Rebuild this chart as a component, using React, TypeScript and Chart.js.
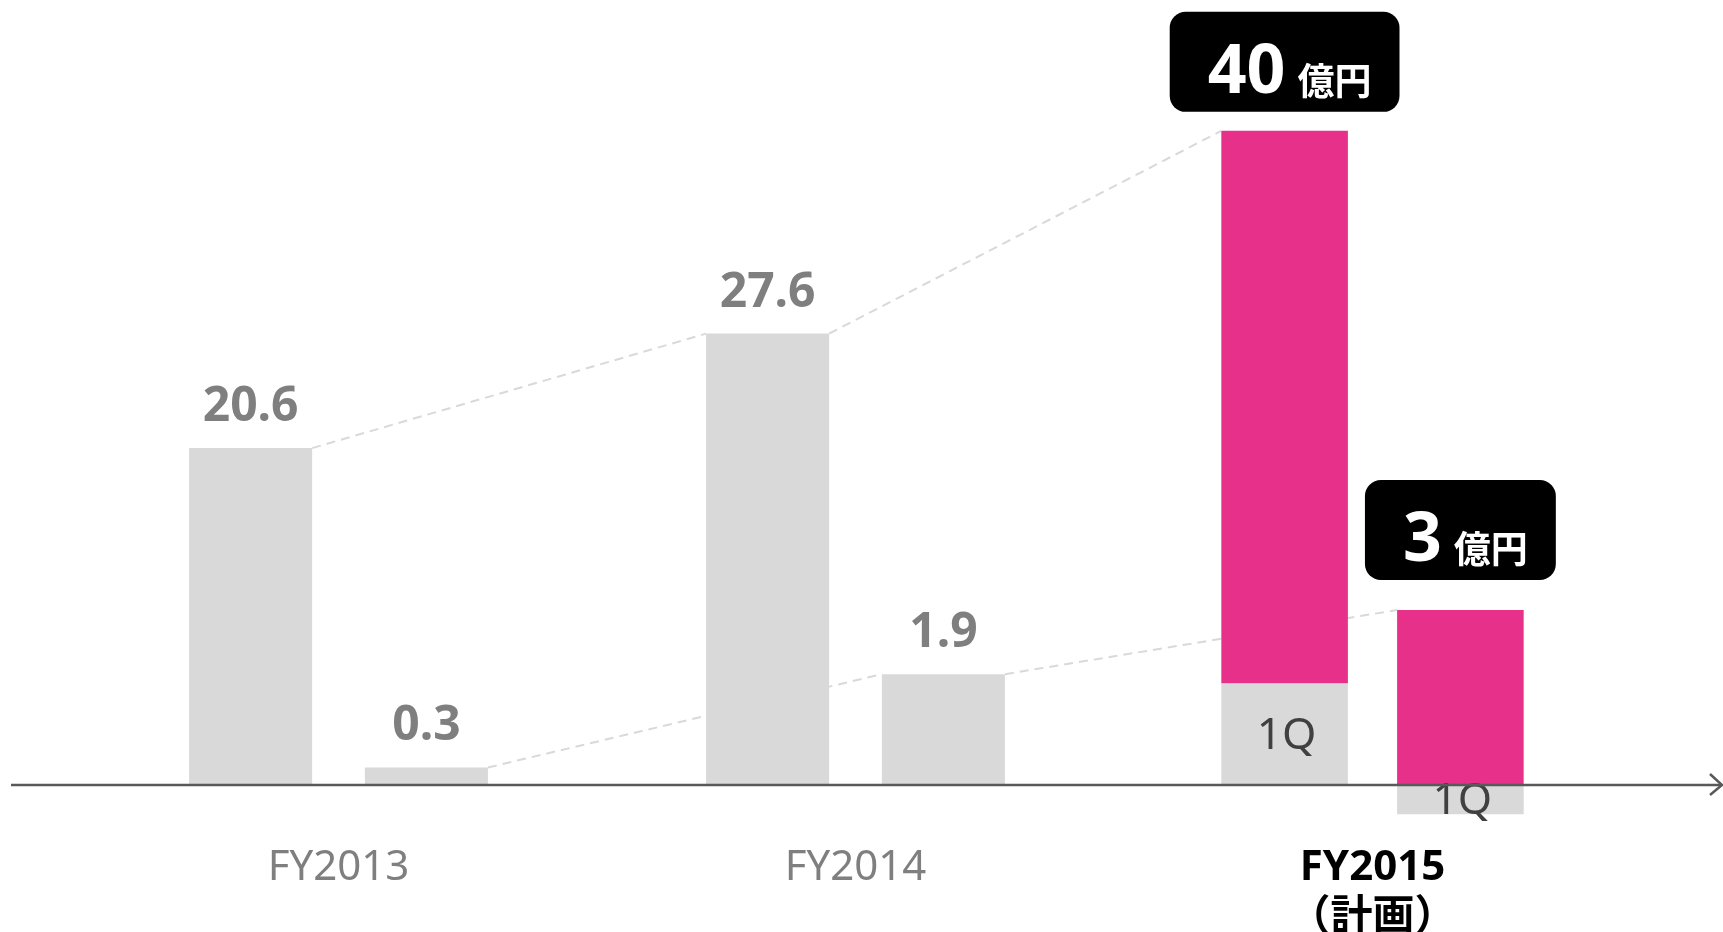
import React, { useEffect, useRef } from "react";
import { Chart, registerables } from "chart.js";

Chart.register(...registerables);

// ---- data ----
const categories: (string | string[])[] = ["FY2013", "FY2014", ["FY2015", "（計画）"]];
const revenueActual = [20.6, 27.6, null];
const revenueQ1 = [null, null, 6.2];
const revenuePlan = [null, null, 40];
const profitActual = [0.3, 1.9, null];
const profitQ1 = [null, null, -0.5];
const profitPlan = [null, null, 3];
const q1Label = "1Q";
const planUnit = "億円";

// ---- styles ----
const GRAY = "#d9d9d9";
const MAGENTA = "#e6308a";
const LABEL_GRAY = "#7f7f7f";
const LATIN = '"Noto Sans", "Noto Sans CJK JP", sans-serif';
const CJK = '"Noto Sans CJK JP", "Noto Sans", sans-serif';

const revenuePlanRemainder = revenuePlan.map((v, i) =>
  v == null ? null : v - (revenueQ1[i] ?? 0)
);

function roundRect(ctx: CanvasRenderingContext2D, x: number, y: number, w: number, h: number, r: number) {
  ctx.beginPath();
  ctx.moveTo(x + r, y);
  ctx.lineTo(x + w - r, y);
  ctx.arcTo(x + w, y, x + w, y + r, r);
  ctx.lineTo(x + w, y + h - r);
  ctx.arcTo(x + w, y + h, x + w - r, y + h, r);
  ctx.lineTo(x + r, y + h);
  ctx.arcTo(x, y + h, x, y + h - r, r);
  ctx.lineTo(x, y + r);
  ctx.arcTo(x, y, x + r, y, r);
  ctx.closePath();
}

const boxGap: Record<number, number> = { 2: 19, 5: 30 };

const overlay = {
  id: "overlay",
  beforeDatasetsDraw(chart: any) {
    const ctx: CanvasRenderingContext2D = chart.ctx;
    const d = (i: number) => chart.getDatasetMeta(i).data;
    const chains = [
      [d(0)[0], d(0)[1], d(2)[2]],
      [d(3)[0], d(3)[1], d(5)[2]],
    ];
    ctx.save();
    ctx.strokeStyle = GRAY;
    ctx.lineWidth = 2;
    ctx.setLineDash([9, 6]);
    for (const chain of chains) {
      for (let i = 0; i < chain.length - 1; i++) {
        const a = chain[i];
        const b = chain[i + 1];
        ctx.beginPath();
        ctx.moveTo(a.x + a.width / 2, a.y);
        ctx.lineTo(b.x - b.width / 2, b.y);
        ctx.stroke();
      }
    }
    ctx.restore();
  },
  afterDatasetsDraw(chart: any) {
    const ctx: CanvasRenderingContext2D = chart.ctx;
    const y0 = chart.scales.y.getPixelForValue(0);
    ctx.save();

    // value labels on actual bars
    ctx.fillStyle = LABEL_GRAY;
    ctx.font = `bold 48px ${LATIN}`;
    ctx.textAlign = "center";
    ctx.textBaseline = "alphabetic";
    for (const [di, arr] of [[0, revenueActual], [3, profitActual]] as [number, (number | null)[]][]) {
      chart.getDatasetMeta(di).data.forEach((el: any, i: number) => {
        const v = arr[i];
        if (v == null) return;
        ctx.fillText(v.toFixed(1), el.x, el.y - 27);
      });
    }

    // 1Q labels
    ctx.fillStyle = "#404040";
    ctx.font = `44px ${LATIN}`;
    ctx.textBaseline = "middle";
    for (const [di, arr] of [[1, revenueQ1], [4, profitQ1]] as [number, (number | null)[]][]) {
      chart.getDatasetMeta(di).data.forEach((el: any, i: number) => {
        if (arr[i] == null) return;
        ctx.fillText(q1Label, el.x + 2, (el.y + el.base) / 2 + 2);
      });
    }

    // x axis line with arrow
    ctx.strokeStyle = "#595959";
    ctx.lineWidth = 2.5;
    ctx.beginPath();
    ctx.moveTo(11, y0);
    ctx.lineTo(chart.width - 1, y0);
    ctx.stroke();
    ctx.beginPath();
    ctx.moveTo(chart.width - 13, y0 - 11);
    ctx.lineTo(chart.width - 1, y0);
    ctx.lineTo(chart.width - 13, y0 + 10);
    ctx.stroke();

    // plan boxes
    for (const [di, arr] of [[2, revenuePlan], [5, profitPlan]] as [number, (number | null)[]][]) {
      chart.getDatasetMeta(di).data.forEach((el: any, i: number) => {
        const v = arr[i];
        if (v == null) return;
        const num = String(v);
        ctx.font = `bold 68px ${LATIN}`;
        const wNum = ctx.measureText(num).width;
        ctx.font = `bold 37px ${CJK}`;
        const wUnit = ctx.measureText(planUnit).width;
        const gap = 12;
        const textW = wNum + gap + wUnit;
        const boxW = textW + 66;
        const boxH = 100;
        const boxBottom = el.y - boxGap[di];
        const boxLeft = el.x - boxW / 2;
        ctx.fillStyle = "#000";
        roundRect(ctx, boxLeft, boxBottom - boxH, boxW, boxH, 16);
        ctx.fill();
        ctx.fillStyle = "#fff";
        ctx.textAlign = "left";
        ctx.textBaseline = "alphabetic";
        const tx = boxLeft + 38;
        ctx.font = `bold 68px ${LATIN}`;
        ctx.fillText(num, tx, boxBottom - 19);
        ctx.font = `bold 37px ${CJK}`;
        ctx.fillText(planUnit, tx + wNum + gap, boxBottom - 17);
      });
    }
    ctx.restore();
  },
};

export default function App() {
  const ref = useRef<HTMLCanvasElement | null>(null);
  useEffect(() => {
    if (!ref.current) return;
    const fy15 = 0.72;
    const chart = new Chart(ref.current, {
      type: "bar",
      data: {
        labels: categories as any,
        datasets: [
          { label: "売上高", data: revenueActual, backgroundColor: GRAY, stack: "rev", yAxisID: "y" },
          { label: "売上高 1Q", data: revenueQ1, backgroundColor: GRAY, stack: "rev", yAxisID: "y", barPercentage: fy15 },
          { label: "売上高 計画", data: revenuePlanRemainder, backgroundColor: MAGENTA, stack: "rev", yAxisID: "y", barPercentage: fy15 },
          { label: "営業利益", data: profitActual, backgroundColor: GRAY, stack: "op", yAxisID: "y2" },
          { label: "営業利益 1Q", data: profitQ1, backgroundColor: GRAY, stack: "op", yAxisID: "y2", barPercentage: fy15 },
          { label: "営業利益 計画", data: profitPlan, backgroundColor: MAGENTA, stack: "op", yAxisID: "y2", barPercentage: fy15 },
        ] as any,
      },
      options: {
        animation: false,
        responsive: true,
        maintainAspectRatio: false,
        layout: { padding: { left: 80, right: 92, top: 0, bottom: 0 } },
        datasets: { bar: { categoryPercentage: 0.68, barPercentage: 0.70, borderWidth: 0 } },
        plugins: { legend: { display: false }, tooltip: { enabled: false } },
        scales: {
          x: {
            stacked: true,
            grid: { display: false, drawTicks: false },
            border: { display: false },
            afterFit: (scale: any) => {
              scale.height = 108;
            },
            ticks: {
              padding: 19,
              color: (c: any) => (c.index === 2 ? "#000000" : LABEL_GRAY),
              font: (c: any) => ({
                family: LATIN,
                size: 42,
                weight: c.index === 2 ? "bold" : "normal",
                lineHeight: 50 / 42,
              }),
            },
          },
          y: { display: false, stacked: true, min: -2.385, max: 48.0 },
          y2: { display: false, stacked: true, min: -0.6686, max: 13.457 },
        },
      } as any,
      plugins: [overlay],
    });
    return () => chart.destroy();
  }, []);
  return (
    <div style={{ position: "fixed", left: 0, top: 0, width: "100vw", height: "100vh", background: "#fff" }}>
      <canvas ref={ref} />
    </div>
  );
}
